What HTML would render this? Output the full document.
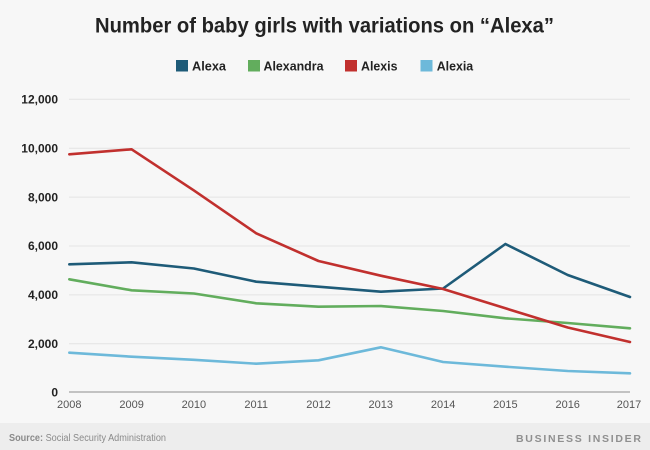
<!DOCTYPE html>
<html>
<head>
<meta charset="utf-8">
<style>
  html,body{margin:0;padding:0;background:#f7f7f7;}
  svg{display:block;}
</style>
</head>
<body>
<svg width="650" height="450" viewBox="0 0 650 450" xmlns="http://www.w3.org/2000/svg">
  <rect x="0" y="0" width="650" height="450" fill="#f7f7f7"/>
  <rect x="0" y="423" width="650" height="27" fill="#ededed"/>

  <!-- Title -->
  <text x="95" y="32.5" font-family="Liberation Sans, sans-serif" font-weight="bold" font-size="21" fill="#222" textLength="459" lengthAdjust="spacingAndGlyphs">Number of baby girls with variations on “Alexa”</text>

  <!-- Legend -->
  <g font-family="Liberation Sans, sans-serif" font-weight="bold" font-size="12.5" fill="#222">
    <rect x="176" y="60" width="12" height="11.5" fill="#1e5b78"/>
    <text x="192" y="70.5" textLength="34" lengthAdjust="spacingAndGlyphs">Alexa</text>
    <rect x="248" y="60" width="12" height="11.5" fill="#62ad5d"/>
    <text x="263.5" y="70.5" textLength="60" lengthAdjust="spacingAndGlyphs">Alexandra</text>
    <rect x="345" y="60" width="12" height="11.5" fill="#c1302e"/>
    <text x="361" y="70.5" textLength="36.5" lengthAdjust="spacingAndGlyphs">Alexis</text>
    <rect x="420.5" y="60" width="12" height="11.5" fill="#6db9da"/>
    <text x="436.7" y="70.5" textLength="36.5" lengthAdjust="spacingAndGlyphs">Alexia</text>
  </g>

  <!-- Gridlines -->
  <g stroke="#e4e4e4" stroke-width="1">
    <line x1="69" y1="99.3" x2="630" y2="99.3"/>
    <line x1="69" y1="148.2" x2="630" y2="148.2"/>
    <line x1="69" y1="197.1" x2="630" y2="197.1"/>
    <line x1="69" y1="246" x2="630" y2="246"/>
    <line x1="69" y1="294.9" x2="630" y2="294.9"/>
    <line x1="69" y1="343.8" x2="630" y2="343.8"/>
  </g>
  <line x1="69" y1="392" x2="630" y2="392" stroke="#c2c2c2" stroke-width="2"/>

  <!-- Y labels -->
  <g font-family="Liberation Sans, sans-serif" font-weight="bold" font-size="12" fill="#222" text-anchor="end">
    <text x="58" y="103.5">12,000</text>
    <text x="58" y="152.4">10,000</text>
    <text x="58" y="201.3">8,000</text>
    <text x="58" y="250.2">6,000</text>
    <text x="58" y="299.1">4,000</text>
    <text x="58" y="348">2,000</text>
    <text x="58" y="396.6">0</text>
  </g>

  <!-- X labels -->
  <g font-family="Liberation Sans, sans-serif" font-size="11" fill="#555" text-anchor="middle">
    <text x="69.3" y="408">2008</text>
    <text x="131.6" y="408">2009</text>
    <text x="193.9" y="408">2010</text>
    <text x="256.2" y="408">2011</text>
    <text x="318.5" y="408">2012</text>
    <text x="380.8" y="408">2013</text>
    <text x="443.1" y="408">2014</text>
    <text x="505.4" y="408">2015</text>
    <text x="567.7" y="408">2016</text>
    <text x="629" y="408">2017</text>
  </g>

  <!-- Series -->
  <g fill="none" stroke-width="2.6" stroke-linejoin="round" stroke-linecap="round">
    <polyline stroke="#6db9da" points="69.3,352.7 131.6,356.7 193.9,359.8 256.2,363.7 318.5,360.3 380.8,347.3 443.1,362 505.4,366.7 567.7,371 630,373.3"/>
    <polyline stroke="#62ad5d" points="69.3,279.3 131.6,290.3 193.9,293.5 256.2,303.3 318.5,306.7 380.8,306 443.1,311 505.4,318.3 567.7,323 630,328.3"/>
    <polyline stroke="#1e5b78" points="69.3,264.3 131.6,262.3 193.9,268.5 256.2,281.7 318.5,286.7 380.8,291.7 443.1,288.5 505.4,244 567.7,275 630,297"/>
    <polyline stroke="#c1302e" points="69.3,154.3 131.6,149.3 193.9,190.4 256.2,233.3 318.5,261 380.8,275.7 443.1,289 505.4,308.3 567.7,327.5 630,342"/>
  </g>

  <!-- Footer -->
  <text x="9" y="441" font-family="Liberation Sans, sans-serif" font-size="10" fill="#8a8a8a" textLength="157" lengthAdjust="spacingAndGlyphs"><tspan font-weight="bold">Source:</tspan> Social Security Administration</text>
  <text x="516" y="442" font-family="Liberation Sans, sans-serif" font-weight="bold" font-size="10.5" fill="#8f8f8f" textLength="125" lengthAdjust="spacing">BUSINESS INSIDER</text>
</svg>
</body>
</html>
